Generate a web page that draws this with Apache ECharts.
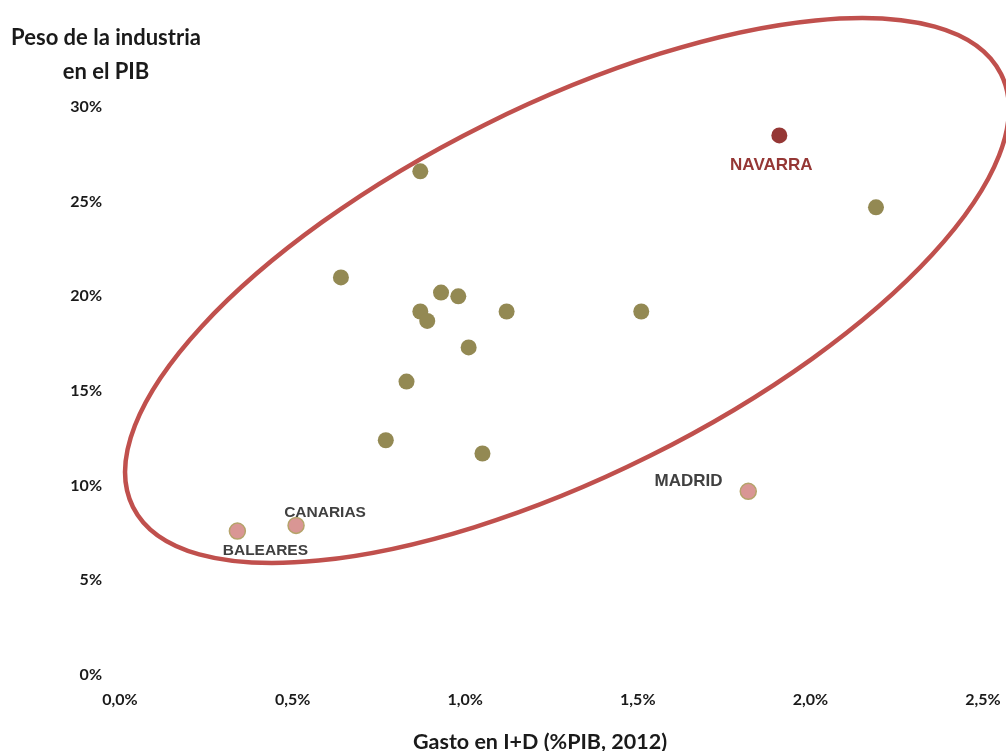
<!DOCTYPE html>
<html><head><meta charset="utf-8">
<script src="https://cdn.jsdelivr.net/npm/echarts@6/dist/echarts.min.js"></script>
<style>html,body{margin:0;padding:0;background:#fff}#c{width:1006px;height:751px}</style>
</head><body><div id="c"></div>
<script>
// Data: [gasto I+D %PIB, peso industria %PIB]
const regionsOther = [
  [2.19, 24.7], [0.87, 26.6], [0.64, 21.0], [0.93, 20.2], [0.98, 20.0],
  [0.87, 19.2], [0.89, 18.7], [1.12, 19.2], [1.51, 19.2], [1.01, 17.3],
  [0.83, 15.5], [0.77, 12.4], [1.05, 11.7]
];
const navarra = { name: 'NAVARRA', value: [1.91, 28.5] };
const outliers = [
  { name: 'MADRID', value: [1.82, 9.7] },
  { name: 'CANARIAS', value: [0.51, 7.9] },
  { name: 'BALEARES', value: [0.34, 7.6] }
];
const xTicks = [0, 0.5, 1.0, 1.5, 2.0, 2.5];
const yTicks = [0, 5, 10, 15, 20, 25, 30];
const yTitle = 'Peso de la industria\nen el PIB';
const xTitle = 'Gasto en I+D (%PIB, 2012)';

const arial = 'Liberation Sans, Arial, sans-serif';
const labelStyle = {
  'MADRID': { position: 'left', offset: [-12, -10], fontSize: 17, fontFamily: arial },
  'CANARIAS': { position: 'top', offset: [29, 9], fontSize: 15.5, fontFamily: arial },
  'BALEARES': { position: 'bottom', offset: [28, -2], fontSize: 15.5, fontFamily: arial }
};

const chart = echarts.init(document.getElementById('c'));
const font = 'Lato, "Open Sans", sans-serif';
chart.setOption({
  animation: false,
  grid: { left: 120, right: 23, top: 107, bottom: 76 },
  xAxis: {
    type: 'value', min: xTicks[0], max: xTicks[xTicks.length - 1], interval: 0.5,
    axisLine: { show: false }, axisTick: { show: false }, splitLine: { show: false },
    axisLabel: { margin: 17, color: '#1a1a1a', fontWeight: 'bold', fontSize: 16, fontFamily: font,
      formatter: v => v.toFixed(1).replace('.', ',') + '%' }
  },
  yAxis: {
    type: 'value', min: yTicks[0], max: yTicks[yTicks.length - 1], interval: 5,
    axisLine: { show: false }, axisTick: { show: false }, splitLine: { show: false },
    axisLabel: { margin: 18, color: '#1a1a1a', fontWeight: 'bold', fontSize: 16, fontFamily: font,
      formatter: v => v + '%' }
  },
  graphic: [
    { type: 'ellipse', x: 567, y: 290.5, rotation: 26.5 * Math.PI / 180,
      shape: { cx: 0, cy: 0, rx: 485, ry: 185 },
      style: { fill: 'none', stroke: '#c0504d', lineWidth: 4.5 }, z: 1 },
    { type: 'text', x: 106, y: 55, style: { text: yTitle, textAlign: 'center', textVerticalAlign: 'middle',
      font: 'bold 22px ' + font, fill: '#1a1a1a', lineHeight: 34 } },
    { type: 'text', x: 540, y: 742, style: { text: xTitle, textAlign: 'center', textVerticalAlign: 'middle',
      font: 'bold 21.5px ' + font, fill: '#1a1a1a' } }
  ],
  series: [
    { type: 'scatter', data: regionsOther, symbolSize: 16, z: 3,
      itemStyle: { color: '#938953', opacity: 1 } },
    { type: 'scatter', data: [navarra], symbolSize: 16, z: 3,
      itemStyle: { color: '#953735', opacity: 1 },
      label: { show: true, position: 'bottom', distance: 13, offset: [-8, 0], formatter: '{b}',
        color: '#953735', fontWeight: 'bold', fontSize: 17, fontFamily: arial } },
    { type: 'scatter', z: 3,
      data: outliers.map(d => Object.assign({}, d, { label: labelStyle[d.name] })),
      symbolSize: 16,
      itemStyle: { color: '#d99694', borderColor: '#b5a36a', borderWidth: 1.5, opacity: 1 },
      label: { show: true, formatter: '{b}', color: '#404040', fontWeight: 'bold', fontSize: 15,
        fontFamily: arial } }
  ]
});
</script></body></html>
